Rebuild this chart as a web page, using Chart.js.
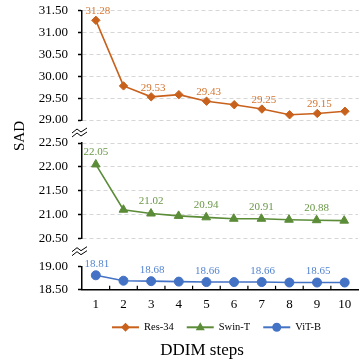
<!DOCTYPE html>
<html>
<head>
<meta charset="utf-8">
<script src="https://cdn.jsdelivr.net/npm/chart.js@4.4.0/dist/chart.umd.min.js"></script>
<style>
  html, body { margin: 0; padding: 0; background: #fff; }
  #wrap { position: relative; width: 364px; height: 360px; overflow: hidden; }
  #wrap canvas { position: absolute; left: 0; }
</style>
</head>
<body>
<div id="wrap">
  <canvas id="resChart" width="364" height="130" style="top:0"></canvas>
  <canvas id="swinChart" width="364" height="133" style="top:115px"></canvas>
  <canvas id="vitChart" width="364" height="116" style="top:244px"></canvas>
</div>
<script>
const serif = '"Liberation Serif", "Times New Roman", serif';
Chart.defaults.font.family = serif;
Chart.defaults.color = '#000';

// data
const steps = ['1', '2', '3', '4', '5', '6', '7', '8', '9', '10'];
const res34 = [31.28, 29.78, 29.53, 29.58, 29.43, 29.35, 29.25, 29.12, 29.15, 29.20];
const swinT = [22.05, 21.10, 21.02, 20.97, 20.94, 20.91, 20.91, 20.89, 20.88, 20.87];
const vitB = [18.81, 18.69, 18.68, 18.67, 18.66, 18.66, 18.66, 18.65, 18.65, 18.65];
const resRange = [29.0, 31.5];
const swinRange = [20.5, 22.5];
const vitRange = [18.5, 19.0];
const labelledSteps = [0, 2, 4, 6, 8];

const seriesNames = ['Res-34', 'Swin-T', 'ViT-B'];
const seriesColors = ['#c8611c', '#5b8c38', '#4472c4'];
const labelColors = ['#d4752f', '#6a9848', '#5585d0'];
const seriesMarkers = ['rectRot', 'triangle', 'circle'];

function drawMarker(ctx, style, x, y, r) {
    ctx.beginPath();
    if (style === 'rectRot') {
        ctx.moveTo(x, y - r); ctx.lineTo(x + r, y); ctx.lineTo(x, y + r); ctx.lineTo(x - r, y);
    } else if (style === 'triangle') {
        ctx.moveTo(x, y - r); ctx.lineTo(x + r * 0.9, y + r * 0.6); ctx.lineTo(x - r * 0.9, y + r * 0.6);
    } else {
        ctx.arc(x, y, r, 0, Math.PI * 2);
    }
    ctx.closePath();
    ctx.fill();
}

// numbers above every other point
const valueLabels = {
    id: 'valueLabels',
    afterDatasetsDraw(chart, args, opts) {
        const { ctx } = chart;
        chart.data.datasets.forEach((ds, di) => {
            const meta = chart.getDatasetMeta(di);
            ctx.save();
            ctx.font = '11px ' + serif;
            ctx.fillStyle = opts.color;
            ctx.textAlign = 'center';
            ctx.textBaseline = 'middle';
            labelledSteps.forEach(i => {
                const p = meta.data[i];
                ctx.fillText(ds.data[i].toFixed(2), p.x + opts.dx, p.y - opts.lift);
            });
            ctx.restore();
        });
    }
};

// axis break mark on the y axis
function breakMark(localY) {
    return {
        id: 'breakMark',
        afterDraw(chart) {
            const { ctx } = chart;
            const x = chart.scales.y.right - 2;
            ctx.save();
            ctx.fillStyle = '#fff';
            ctx.fillRect(x - 9, localY - 6, 18, 12);
            ctx.strokeStyle = '#000';
            ctx.lineWidth = 1;
            [-2, 2].forEach(off => {
                const y0 = localY + off;
                ctx.beginPath();
                ctx.moveTo(x - 8, y0 + 2);
                ctx.lineTo(x - 3, y0 - 2);
                ctx.lineTo(x + 1, y0 + 1);
                ctx.lineTo(x + 7, y0 - 3);
                ctx.stroke();
            });
            ctx.restore();
        }
    };
}

const yAxisTitle = {
    id: 'yAxisTitle',
    afterDraw(chart) {
        const { ctx } = chart;
        ctx.save();
        ctx.translate(20, 21);
        ctx.rotate(-Math.PI / 2);
        ctx.font = '15px ' + serif;
        ctx.fillStyle = '#000';
        ctx.textAlign = 'center';
        ctx.textBaseline = 'middle';
        ctx.fillText('SAD', 0, 0);
        ctx.restore();
    }
};

// inward ticks between steps, legend with line+marker, x title
const bottomDecor = {
    id: 'bottomDecor',
    afterDraw(chart) {
        const { ctx } = chart;
        const xs = chart.scales.x;
        ctx.save();
        ctx.strokeStyle = '#000';
        ctx.lineWidth = 1.2;
        for (let i = 1; i < steps.length; i++) {
            const x = (xs.getPixelForValue(i - 1) + xs.getPixelForValue(i)) / 2;
            ctx.beginPath();
            ctx.moveTo(x, xs.top);
            ctx.lineTo(x, xs.top - 3.5);
            ctx.stroke();
        }

        ctx.font = '10.5px ' + serif;
        ctx.textBaseline = 'middle';
        ctx.textAlign = 'left';
        const ly = 83.3;
        let x = 112;
        seriesNames.forEach((name, i) => {
            ctx.strokeStyle = seriesColors[i];
            ctx.fillStyle = seriesColors[i];
            ctx.lineWidth = 2;
            ctx.beginPath();
            ctx.moveTo(x, ly);
            ctx.lineTo(x + 27, ly);
            ctx.stroke();
            drawMarker(ctx, seriesMarkers[i], x + 13.5, ly, i === 1 ? 5 : 4.5);
            ctx.fillStyle = '#000';
            ctx.fillText(name, x + 32, ly);
            x += 32 + ctx.measureText(name).width + 13;
        });

        ctx.font = '17px ' + serif;
        ctx.textAlign = 'center';
        ctx.textBaseline = 'alphabetic';
        ctx.fillText('DDIM steps', 202, 111);
        ctx.restore();
    }
};

function yScale(range, grid) {
    return {
        min: range[0],
        max: range[1],
        ticks: {
            stepSize: 0.5,
            padding: 10,
            color: '#000',
            font: { size: 13 },
            callback: v => v.toFixed(2)
        },
        grid: {
            drawOnChartArea: grid,
            color: '#d6d6d6',
            lineWidth: 1,
            tickColor: '#000',
            tickLength: 4,
            tickWidth: 1.5
        },
        border: { color: '#000', width: 1.5, dash: [4, 3] },
        afterFit(s) {
            s.width = 82;
            s.paddingTop = 0;
            s.paddingBottom = 0;
        }
    };
}

function makePanel(canvasId, i, values, range, cfg) {
    return new Chart(document.getElementById(canvasId), {
        type: 'line',
        data: {
            labels: steps,
            datasets: [{
                label: seriesNames[i],
                data: values,
                borderColor: seriesColors[i],
                backgroundColor: seriesColors[i],
                borderWidth: 1.6,
                pointStyle: seriesMarkers[i],
                pointRadius: cfg.pointRadius,
                pointBorderWidth: 1,
                tension: 0,
                fill: false
            }]
        },
        options: {
            responsive: false,
            animation: false,
            layout: { padding: cfg.padding },
            scales: {
                x: cfg.showX ? {
                    type: 'category',
                    offset: true,
                    grid: { display: false, drawTicks: false },
                    border: { color: '#000', width: 1.5 },
                    ticks: { color: '#000', font: { size: 13 }, padding: 7, maxRotation: 0, autoSkip: false },
                    afterFit(s) { s.height = 24; }
                } : { type: 'category', offset: true, display: false },
                y: yScale(range, cfg.grid)
            },
            plugins: {
                legend: { display: false },
                tooltip: { enabled: false },
                valueLabels: { color: labelColors[i], lift: cfg.lift, dx: cfg.dx }
            }
        },
        plugins: [valueLabels].concat(cfg.extra || [])
    });
}

makePanel('resChart', 0, res34, resRange, {
    pointRadius: 4.2, lift: 9, dx: 2, grid: true,
    padding: { top: 10.7, bottom: 10, left: 0, right: 0 }
});
makePanel('swinChart', 1, swinT, swinRange, {
    pointRadius: 5, lift: 12, dx: 0, grid: true,
    padding: { top: 28, bottom: 9.7, left: 0, right: 0 },
    extra: [breakMark(18), yAxisTitle]
});
makePanel('vitChart', 2, vitB, vitRange, {
    pointRadius: 4.5, lift: 11, dx: 1, grid: false, showX: true,
    padding: { top: 22.7, bottom: 46.7, left: 0, right: 0 },
    extra: [breakMark(7.7), bottomDecor]
});
</script>
</body>
</html>
